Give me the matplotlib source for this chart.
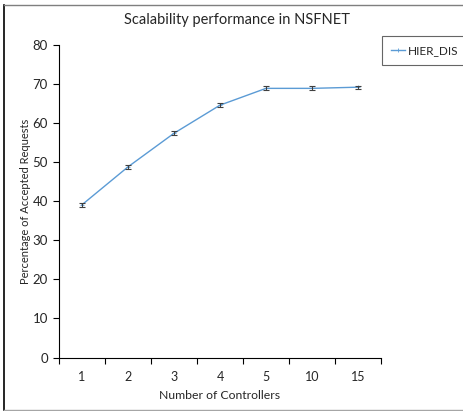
#!/usr/bin/env python3
"""Scalability performance in NSFNET: accepted requests vs number of controllers."""
import matplotlib
matplotlib.use("Agg")
import matplotlib.pyplot as plt

W, H = 464, 411
DPI = 100

controllers = ["1", "2", "3", "4", "5", "10", "15"]
accepted = [39.1, 48.8, 57.4, 64.6, 68.9, 68.9, 69.2]
errors = [0.5, 0.5, 0.5, 0.5, 0.5, 0.5, 0.4]

LINE_COLOR = "#5B9BD5"
AXIS_COLOR = "#000000"
TEXT_COLOR = "#262626"

plt.rcParams["font.family"] = ["Lato", "DejaVu Sans"]

fig = plt.figure(figsize=(W / DPI, H / DPI), dpi=DPI)

# outer chart border (left, top, bottom only; right edge is cropped)
fig.add_artist(plt.Line2D([4 / W, 4 / W], [1 - 410 / H, 1 - 5 / H], color="#000000", lw=1.2))
fig.add_artist(plt.Line2D([4 / W, 1], [1 - 5 / H, 1 - 5 / H], color="#7f7f7f", lw=1.0))
fig.add_artist(plt.Line2D([4 / W, 1], [1 - 410 / H, 1 - 410 / H], color="#a6a6a6", lw=1.0))

x0, x1 = 59, 381
y_top, y_bot = 45, 357.5
ax = fig.add_axes([x0 / W, 1 - y_bot / H, (x1 - x0) / W, (y_bot - y_top) / H])

xs = list(range(len(controllers)))
line, = ax.plot(xs, accepted, color=LINE_COLOR, lw=1.0, marker="+", ms=3, mew=0.6,
                label="HIER_DIS", zorder=3)
ax.errorbar(xs, accepted, yerr=errors, fmt="none", ecolor="#404040", elinewidth=0.8,
            capsize=2, capthick=0.8, zorder=4)

ax.set_xlim(-0.5, len(controllers) - 0.5)
ax.set_ylim(0, 80)
ax.set_yticks(range(0, 81, 10))
ax.set_xticks(xs)
ax.set_xticklabels(controllers)
ax.set_xticks([i - 0.5 for i in range(len(controllers) + 1)], minor=True)
ax.tick_params(axis="x", which="major", length=0, pad=10, labelsize=9, labelcolor=TEXT_COLOR)
ax.tick_params(axis="x", which="minor", length=4, width=0.8, direction="out", color=AXIS_COLOR)
ax.tick_params(axis="y", length=4, width=0.8, direction="out", pad=4, labelsize=9.5,
               labelcolor=TEXT_COLOR, color=AXIS_COLOR)

for side in ("top", "right"):
    ax.spines[side].set_visible(False)
for side in ("left", "bottom"):
    ax.spines[side].set_color(AXIS_COLOR)
    ax.spines[side].set_linewidth(0.8)

ax.set_xlabel("Number of Controllers", fontsize=8.8, color=TEXT_COLOR, labelpad=5)
ax.set_ylabel("Percentage of Accepted Requests", fontsize=8, color=TEXT_COLOR, labelpad=1)
fig.text(237 / W, 1 - 20 / H, "Scalability performance in NSFNET", ha="center", va="center",
         fontsize=10.5, color=TEXT_COLOR)

leg = fig.legend(handles=[line], loc="upper left", bbox_to_anchor=(382 / W, 1 - 36 / H),
                 fontsize=8.5, frameon=True, fancybox=False, handlelength=1.2,
                 handletextpad=0.2, borderpad=0.75, borderaxespad=0)
leg.get_frame().set_edgecolor("#404040")
leg.get_frame().set_linewidth(0.8)
for t in leg.get_texts():
    t.set_color(TEXT_COLOR)

fig.savefig("out.png", dpi=DPI)
